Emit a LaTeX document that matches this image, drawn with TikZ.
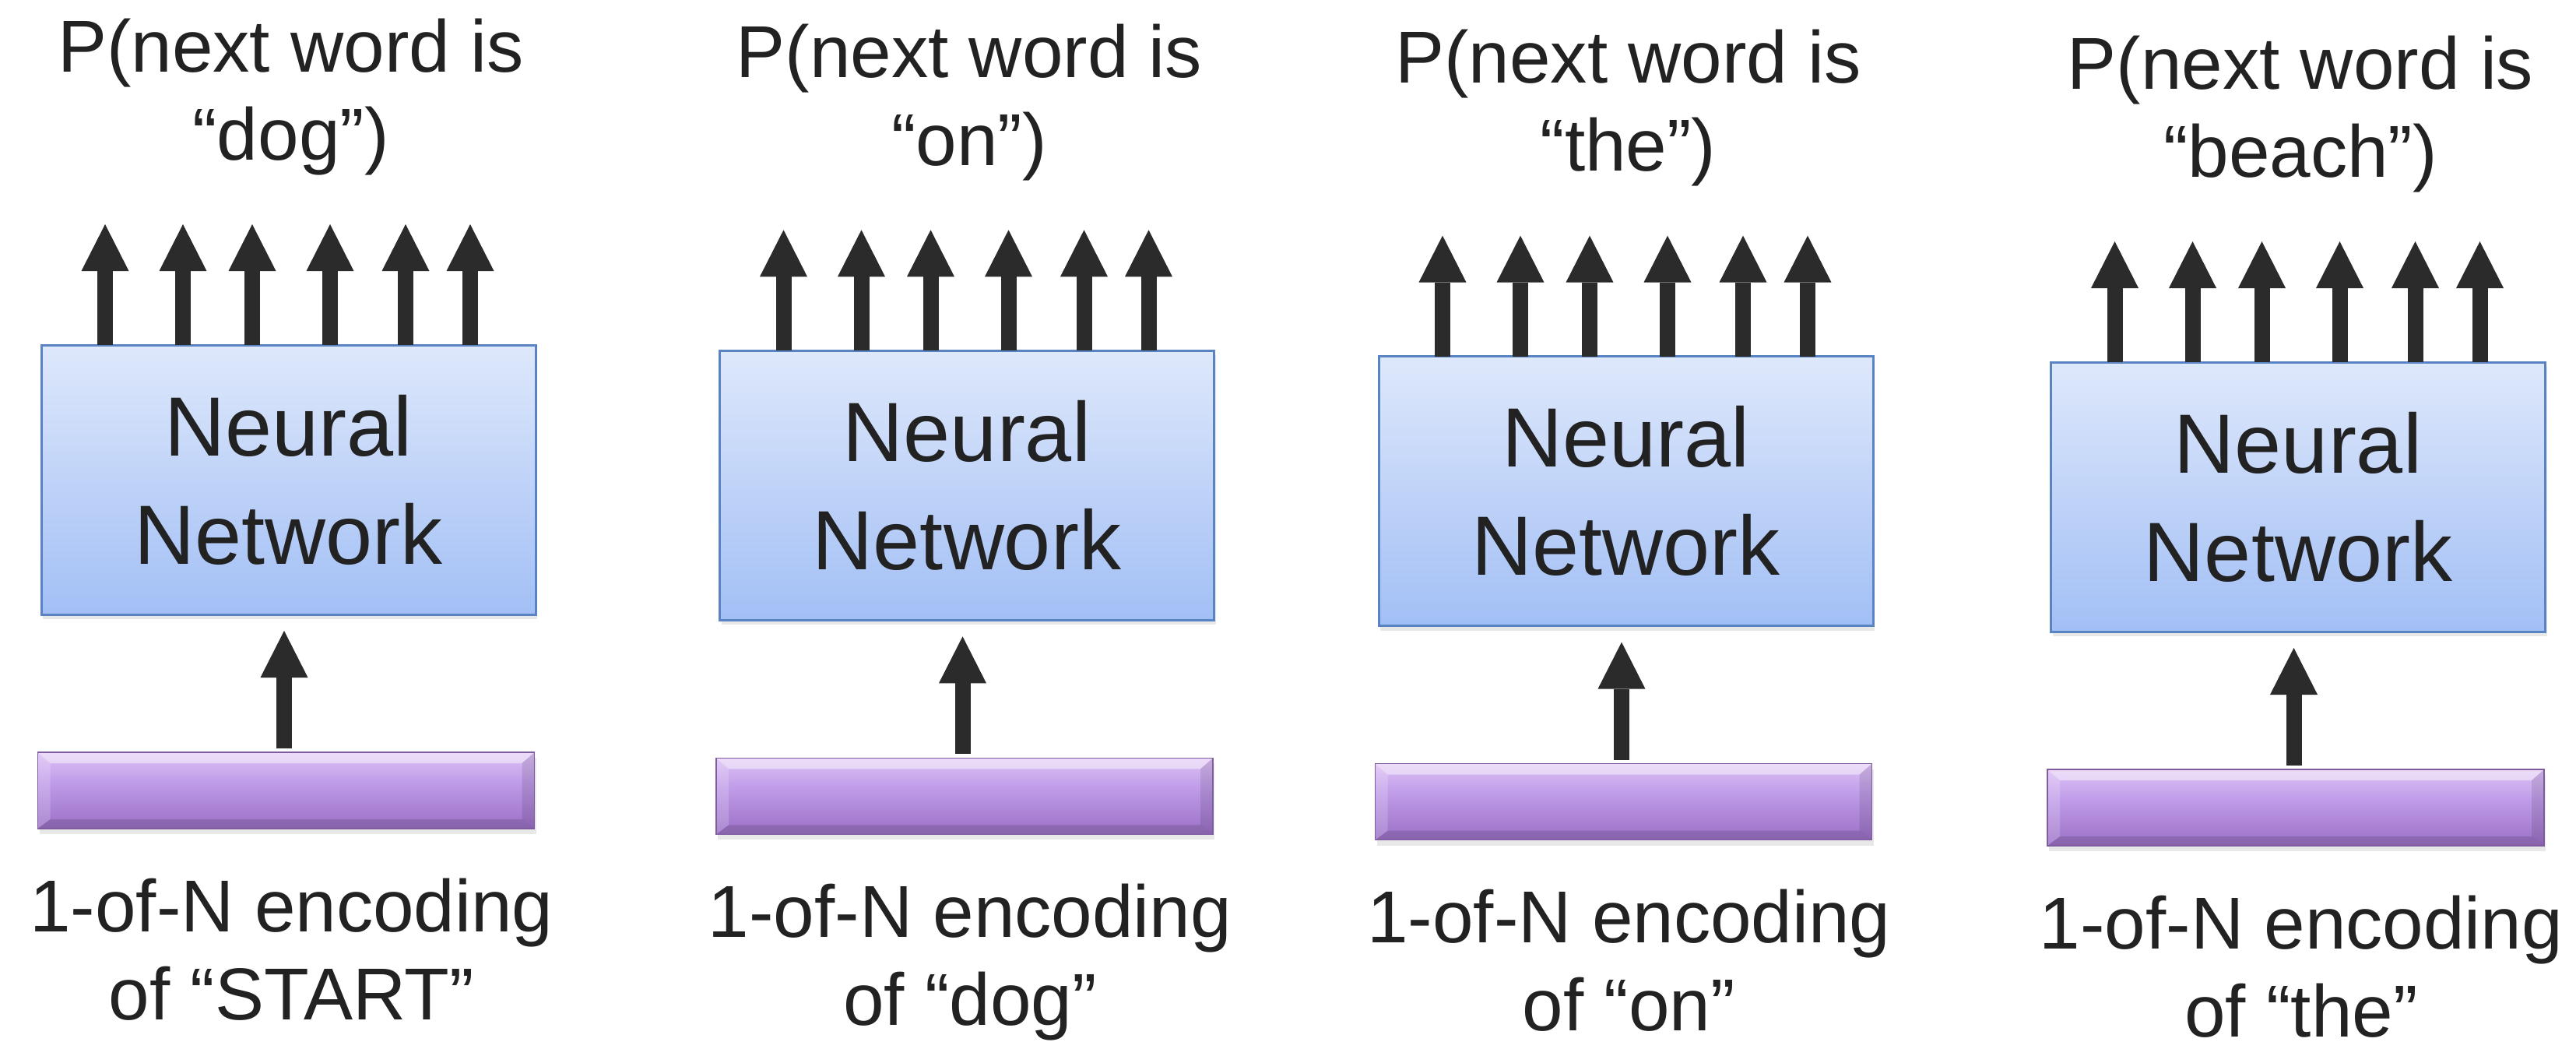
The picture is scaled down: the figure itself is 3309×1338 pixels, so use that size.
\documentclass[tikz,border=0pt]{standalone}
\usepackage{fontspec}
\setmainfont{Liberation Sans}
\usetikzlibrary{arrows.meta,calc,shadows}
\definecolor{txt}{HTML}{222222}
\definecolor{arr}{HTML}{2B2B2B}
\definecolor{nnTop}{HTML}{DEE8FB}
\definecolor{nnBot}{HTML}{A2BFF5}
\definecolor{nnLine}{HTML}{5A83C4}
\definecolor{pTop}{HTML}{EED6FC}
\definecolor{pMid}{HTML}{BF9BE8}
\definecolor{pBot}{HTML}{8656B2}
\definecolor{pLine}{HTML}{7F5C9F}
\pgfdeclareverticalshading{encshade}{100bp}{color(0bp)=(pBot); color(22bp)=(pBot!70!pMid); color(55bp)=(pMid); color(86bp)=(pTop); color(100bp)=(pTop)}
\newcommand\tstr{\rule[-25pt]{0pt}{100pt}}
\begin{document}
\begin{tikzpicture}[x=1pt,y=-1pt,
  nnbox/.style={draw=nnLine, line width=3pt, top color=nnTop, bottom color=nnBot,
    minimum width=635pt, minimum height=346pt, inner sep=0pt, outer sep=0pt,
    align=center, text=txt, font=\fontsize{108}{139}\selectfont,
    drop shadow={shadow xshift=2pt, shadow yshift=-6pt, opacity=0.18}},
  encbar/.style={draw=pLine, line width=1.5pt, shading=encshade,
    minimum width=638pt, minimum height=98pt, inner sep=0pt, outer sep=0pt,
    drop shadow={shadow xshift=2pt, shadow yshift=-7pt, opacity=0.18},
    path picture={
      \fill[white,opacity=0.45] (path picture bounding box.north west) -- (path picture bounding box.north east)
        -- ++(-16,14) -- ($(path picture bounding box.north west)+(16,14)$) -- cycle;
      \fill[white,opacity=0.18] (path picture bounding box.north west) -- ($(path picture bounding box.north west)+(16,14)$)
        -- ($(path picture bounding box.south west)+(16,-12)$) -- (path picture bounding box.south west) -- cycle;
      \fill[black,opacity=0.10] (path picture bounding box.north east) -- ($(path picture bounding box.north east)+(-16,14)$)
        -- ($(path picture bounding box.south east)+(-16,-12)$) -- (path picture bounding box.south east) -- cycle;
      \fill[black,opacity=0.12] (path picture bounding box.south west) -- (path picture bounding box.south east)
        -- ++(-16,-12) -- ($(path picture bounding box.south west)+(16,-12)$) -- cycle;
    }},
  lbl/.style={align=center, text=txt, inner sep=0pt, anchor=north, font=\fontsize{94.5}{113}\selectfont},
  blockarrow/.style={draw=arr, line width=20pt,
    -{Triangle[length=60pt 0 0, width=61pt 0 0, line width=0pt]}}
]
\useasboundingbox (0,0) rectangle (3309,1338);
\fill[white] (0,0) rectangle (3309,1338);
\foreach \i/\cx/\dy/\tw/\bw in {1/370.5/0/dog/START, 2/1242/7.3/on/dog, 3/2088.5/14.6/the/on, 4/2952/22/beach/the}{
  \node[nnbox] (b\i) at (\cx, 616+\dy) {Neural\\Network};
  \node[encbar] (e\i) at (\cx-3, 1015+\dy) {};
  \node[lbl] (t\i) at (\cx+3, 17+\dy) {\tstr P(next word is\\“\tw”)};
  \node[lbl] (c\i) at (\cx+4, 1121+\dy) {\tstr 1-of-N encoding\\of “\bw”};
  \foreach \r in {82,182,271,371,468,551}{
    \coordinate (o\i-\r) at ($(b\i.north west)+(\r,-155)$);
    \draw[blockarrow] (o\i-\r |- b\i.north) -- (o\i-\r);
  }
  \coordinate (in\i) at ($(b\i.south west)+(312,21)$);
  \draw[blockarrow] ($(e\i.north -| in\i)+(0,-5)$) -- (in\i);
}
\end{tikzpicture}
\end{document}
